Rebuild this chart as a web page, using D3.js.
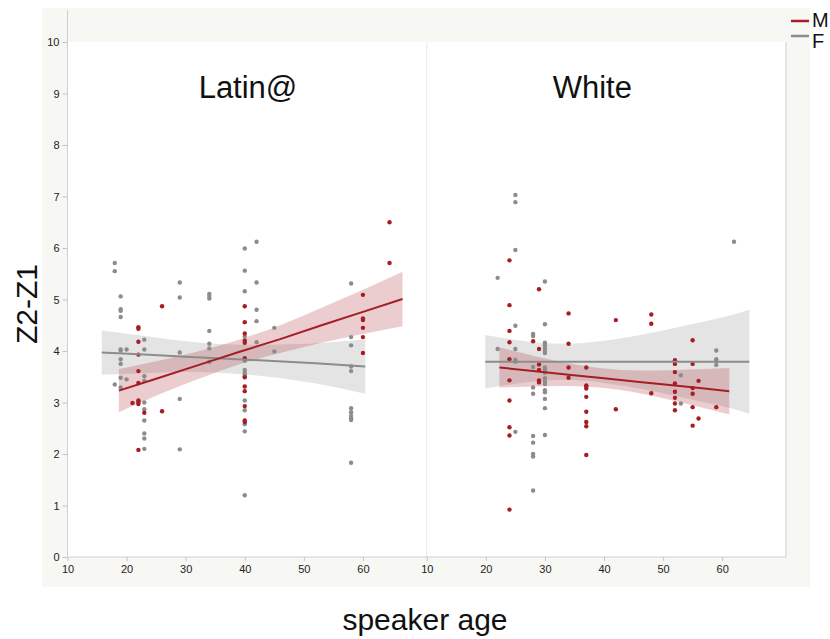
<!DOCTYPE html>
<html>
<head>
<meta charset="utf-8">
<script src="https://cdn.jsdelivr.net/npm/d3@7"></script>
<style>
    body { margin: 0; background: #fff; }
    svg { display: block; font-family: "Liberation Sans", Arial, Helvetica, sans-serif; }
    .tick text { font-size: 11px; fill: #222; }
    .tick line { stroke: #c4c4c4; }
</style>
</head>
<body>
<svg id="chart" width="830" height="639"></svg>
<script>
// ---- data: [speaker age, Z2-Z1] ----
const latinaF = [
    [18, 5.71], [18, 5.55], [18, 3.35],
    [19, 5.06], [19, 4.81], [19, 4.78], [19, 4.66], [19, 4.03], [19, 4.01], [19, 3.84], [19, 3.75], [19, 3.48], [19, 3.29],
    [20, 4.03], [20, 3.45],
    [23, 4.22], [23, 4.03], [23, 3.51], [23, 3.42], [23, 3.00], [23, 2.87], [23, 2.65], [23, 2.40], [23, 2.30], [23, 2.10],
    [29, 5.33], [29, 5.04], [29, 3.97], [29, 3.07], [29, 2.09],
    [34, 5.11], [34, 5.07], [34, 5.02], [34, 4.39], [34, 4.14], [34, 4.05], [34, 3.79],
    [40, 5.99], [40, 5.56], [40, 5.16], [40, 4.28], [40, 3.81], [40, 3.63], [40, 3.59], [40, 3.55], [40, 3.51],
    [40, 3.04], [40, 2.85], [40, 2.58], [40, 2.44], [40, 1.20],
    [42, 6.12], [42, 5.33], [42, 4.80], [42, 4.58], [42, 4.17],
    [45, 4.45], [45, 3.99],
    [58, 5.31], [58, 4.27], [58, 4.11], [58, 3.70], [58, 3.61], [58, 2.89], [58, 2.81], [58, 2.74], [58, 2.69], [58, 2.66], [58, 1.83]
];
const latinaM = [
    [21, 2.99],
    [22, 4.46], [22, 4.43], [22, 4.18], [22, 3.93], [22, 3.61], [22, 3.38], [22, 3.04], [22, 3.01], [22, 2.97], [22, 2.08],
    [23, 2.80],
    [26, 4.87], [26, 2.83],
    [40, 4.87], [40, 4.56], [40, 4.34], [40, 4.20], [40, 4.16], [40, 3.86], [40, 3.49], [40, 3.31], [40, 3.22], [40, 2.93], [40, 2.65], [40, 2.62],
    [60, 5.09], [60, 4.63], [60, 4.60], [60, 4.45], [60, 4.27], [60, 3.96],
    [64.5, 6.50], [64.5, 5.71]
];
const whiteF = [
    [22, 5.42], [22, 4.04],
    [25, 7.03], [25, 6.89], [25, 5.96], [25, 4.49], [25, 4.04], [25, 3.83], [25, 3.79], [25, 2.43],
    [28, 4.33], [28, 4.29], [28, 3.69], [28, 3.29], [28, 3.17], [28, 2.35], [28, 2.22], [28, 2.00], [28, 1.95], [28, 1.29],
    [30, 5.35], [30, 4.52], [30, 4.16], [30, 4.11], [30, 4.05], [30, 4.00], [30, 3.96], [30, 3.68], [30, 3.64],
    [30, 3.58], [30, 3.47], [30, 3.41], [30, 3.36], [30, 3.24], [30, 3.20], [30, 3.07], [30, 2.89], [30, 2.37],
    [53, 3.53], [53, 2.98],
    [59, 4.01], [59, 3.84], [59, 3.81], [59, 3.73],
    [62, 6.12]
];
const whiteM = [
    [24, 5.76], [24, 4.89], [24, 4.39], [24, 4.17], [24, 3.84], [24, 3.43], [24, 3.04], [24, 2.52], [24, 2.36], [24, 0.92],
    [28, 4.19],
    [29, 5.20], [29, 4.04], [29, 3.74], [29, 3.63], [29, 3.43], [29, 3.39],
    [34, 4.73], [34, 4.14], [34, 3.68], [34, 3.48],
    [37, 3.68], [37, 3.33], [37, 3.31], [37, 3.27], [37, 3.11], [37, 2.82], [37, 2.62], [37, 2.54], [37, 1.98],
    [42, 4.60], [42, 2.87],
    [48, 4.71], [48, 4.53], [48, 3.18],
    [52, 3.82], [52, 3.75], [52, 3.59], [52, 3.37], [52, 3.21], [52, 3.09], [52, 2.98], [52, 2.85],
    [55, 4.21], [55, 3.75], [55, 3.28], [55, 3.17], [55, 2.91], [55, 2.55],
    [56, 3.42], [56, 2.69],
    [59, 2.91]
];

// ---- fitted lines with confidence bands (age, lower, fit, upper) ----
const latinaMFit = {
    age:   [18.7, 25, 32, 39, 46, 53, 60, 66.7],
    lower: [2.81, 3.13, 3.45, 3.74, 3.96, 4.16, 4.33, 4.48],
    fit:   [3.23, 3.46, 3.72, 3.98, 4.23, 4.50, 4.76, 5.01],
    upper: [3.65, 3.80, 3.99, 4.22, 4.50, 4.84, 5.19, 5.54]
};
const latinaFFit = {
    age:   [15.8, 23, 30, 37, 44, 52, 60.4],
    lower: [3.54, 3.57, 3.59, 3.57, 3.50, 3.37, 3.17],
    fit:   [3.97, 3.93, 3.89, 3.85, 3.81, 3.76, 3.70],
    upper: [4.40, 4.29, 4.19, 4.13, 4.12, 4.15, 4.23]
};
const whiteFFit = {
    age:   [19.9, 26, 33, 40, 47, 54, 60, 64.6],
    lower: [3.27, 3.38, 3.44, 3.38, 3.25, 3.08, 2.93, 2.78],
    fit:   [3.79, 3.79, 3.79, 3.79, 3.79, 3.79, 3.79, 3.79],
    upper: [4.31, 4.20, 4.14, 4.20, 4.33, 4.50, 4.65, 4.80]
};
const whiteMFit = {
    age:   [22.3, 28, 34, 40, 46, 52, 57, 61.2],
    lower: [3.29, 3.31, 3.32, 3.28, 3.18, 3.03, 2.89, 2.77],
    fit:   [3.68, 3.61, 3.54, 3.47, 3.40, 3.33, 3.27, 3.22],
    upper: [4.07, 3.91, 3.76, 3.66, 3.62, 3.63, 3.65, 3.67]
};

const panelNames = ['Latin@', 'White'];
const xTicks = [10, 20, 30, 40, 50, 60];
const yTicks = [0, 1, 2, 3, 4, 5, 6, 7, 8, 9, 10];
const legendKeys = ['M', 'F'];

// ---- layout ----
const colors = { M: '#a61d24', F: '#8c8c8c' };
const plot = { left: 67.5, top: 42, width: 718.5, height: 515 };
const panelW = plot.width / 2;

const svg = d3.select('#chart');

// grey frame behind the plot
svg.append('rect')
    .attr('x', 42).attr('y', 8)
    .attr('width', 768).attr('height', 579)
    .attr('fill', '#f7f7f3');

svg.append('rect')
    .attr('x', plot.left).attr('y', plot.top)
    .attr('width', plot.width).attr('height', plot.height)
    .attr('fill', '#fff');

const yScale = d3.scaleLinear().domain([0, 10]).range([plot.top + plot.height, plot.top]);
const xScale = d3.scaleLinear().domain([10, 70.8]).range([0, panelW]);

// y axis
const yAxisGroup = svg.append('g')
    .attr('transform', `translate(${plot.left},0)`)
    .call(d3.axisLeft(yScale).tickValues(yTicks).tickSize(5).tickPadding(3));
yAxisGroup.select('.domain').remove();

// frame lines
svg.append('line')
    .attr('x1', plot.left).attr('x2', plot.left)
    .attr('y1', 10).attr('y2', plot.top + plot.height)
    .attr('stroke', '#cfcfcf');
svg.append('line')
    .attr('x1', plot.left + plot.width).attr('x2', plot.left + plot.width)
    .attr('y1', plot.top).attr('y2', plot.top + plot.height)
    .attr('stroke', '#cfcfcf');
svg.append('line')
    .attr('x1', plot.left + panelW).attr('x2', plot.left + panelW)
    .attr('y1', plot.top).attr('y2', plot.top + plot.height)
    .attr('stroke', '#e8e8e8');
svg.append('line')
    .attr('x1', plot.left).attr('x2', plot.left + plot.width)
    .attr('y1', plot.top + plot.height).attr('y2', plot.top + plot.height)
    .attr('stroke', '#cfcfcf');

const panels = [
    { name: panelNames[0], F: latinaF, M: latinaM, fitF: latinaFFit, fitM: latinaMFit, titleX: 180.5 },
    { name: panelNames[1], F: whiteF, M: whiteM, fitF: whiteFFit, fitM: whiteMFit, titleX: 165.5 }
];

const toRows = fit => fit.age.map((a, i) => ({ age: a, lo: fit.lower[i], fit: fit.fit[i], hi: fit.upper[i] }));

const band = d3.area()
    .x(d => xScale(d.age))
    .y0(d => yScale(d.lo))
    .y1(d => yScale(d.hi))
    .curve(d3.curveNatural);

const fitLine = d3.line()
    .x(d => xScale(d.age))
    .y(d => yScale(d.fit));

panels.forEach((p, i) => {
    const g = svg.append('g')
        .attr('transform', `translate(${plot.left + i * panelW},0)`);

    // x axis for this panel
    const xAxisGroup = g.append('g')
        .attr('transform', `translate(0,${plot.top + plot.height})`)
        .call(d3.axisBottom(xScale).tickValues(xTicks).tickSize(4).tickPadding(4));
    xAxisGroup.select('.domain').remove();

    // confidence bands
    g.append('path')
        .datum(toRows(p.fitF))
        .attr('fill', '#e4e4e4')
        .attr('d', band);
    g.append('path')
        .datum(toRows(p.fitM))
        .attr('fill', 'rgba(166,29,36,0.22)')
        .attr('d', band);

    // points
    ['F', 'M'].forEach(key => {
        g.append('g').selectAll('circle')
            .data(p[key])
            .join('circle')
            .attr('cx', d => xScale(d[0]))
            .attr('cy', d => yScale(d[1]))
            .attr('r', 2.2)
            .attr('fill', colors[key]);
    });

    // fit lines
    g.append('path')
        .datum(toRows(p.fitF))
        .attr('fill', 'none')
        .attr('stroke', colors.F)
        .attr('stroke-width', 2)
        .attr('d', fitLine);
    g.append('path')
        .datum(toRows(p.fitM))
        .attr('fill', 'none')
        .attr('stroke', colors.M)
        .attr('stroke-width', 2)
        .attr('d', fitLine);

    // panel title
    g.append('text')
        .attr('x', p.titleX)
        .attr('y', 98)
        .attr('text-anchor', 'middle')
        .style('font-size', '31px')
        .attr('fill', '#111')
        .text(p.name);
});

// axis titles
svg.append('text')
    .attr('transform', 'translate(37,304) rotate(-90)')
    .attr('text-anchor', 'middle')
    .style('font-size', '30px')
    .attr('fill', '#111')
    .text('Z2-Z1');

svg.append('text')
    .attr('x', 425)
    .attr('y', 630)
    .attr('text-anchor', 'middle')
    .style('font-size', '30px')
    .attr('fill', '#111')
    .text('speaker age');

// legend
legendKeys.forEach((k, i) => {
    svg.append('line')
        .attr('x1', 791).attr('x2', 809)
        .attr('y1', 21 + i * 15).attr('y2', 21 + i * 15)
        .attr('stroke', colors[k])
        .attr('stroke-width', 2.5);
    svg.append('text')
        .attr('x', 812)
        .attr('y', 27 + i * 21)
        .style('font-size', '20px')
        .attr('fill', '#111')
        .text(k);
});
</script>
</body>
</html>
